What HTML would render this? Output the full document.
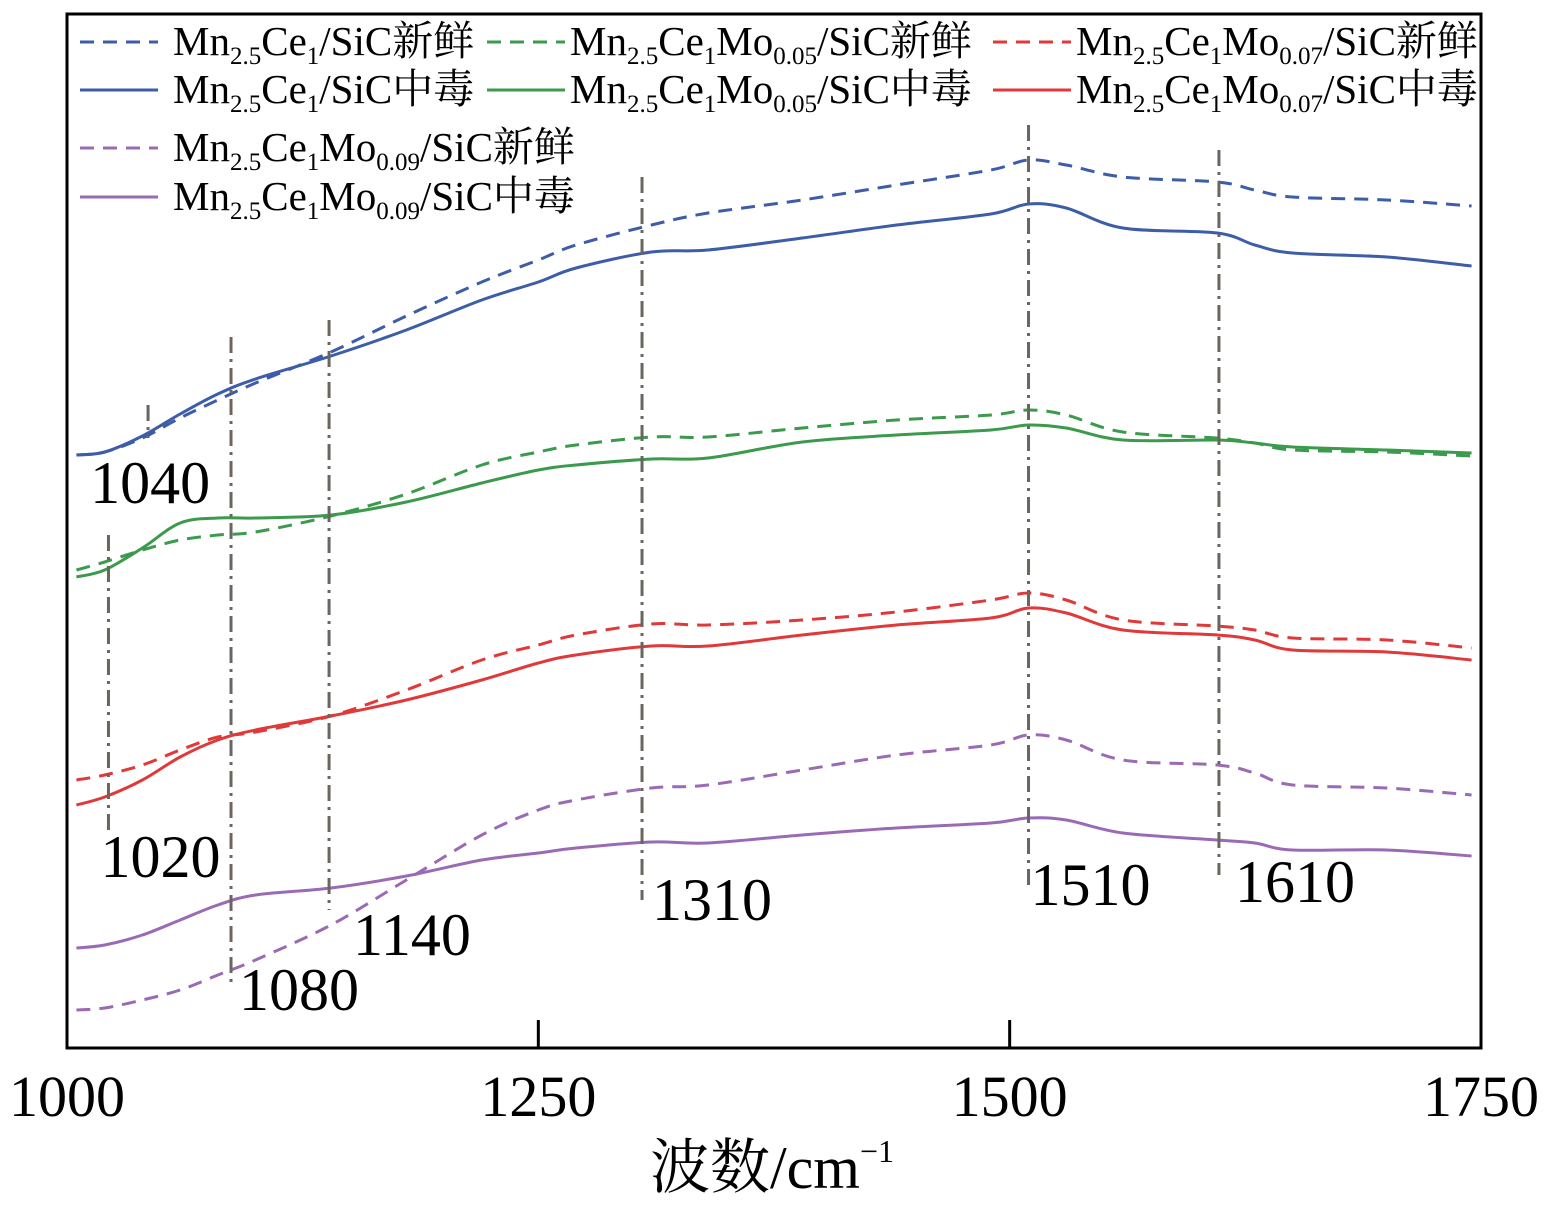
<!DOCTYPE html>
<html><head><meta charset="utf-8">
<style>
html,body{margin:0;padding:0;background:#fff;}
svg{display:block;font-family:"Liberation Serif","Noto Serif CJK SC",serif;}
</style></head>
<body>
<svg id="chart" width="1558" height="1207" viewBox="0 0 1558 1207">
<rect x="67" y="14" width="1414" height="1034" fill="none" stroke="#000" stroke-width="3"/>
<g id="marks"></g>
<g id="xaxis"></g>
<text x="772" y="1188" font-size="60" text-anchor="middle">波数/cm<tspan font-size="32" dy="-26">−1</tspan></text>
<g id="legend"></g>
</svg>
<script>
const wavenumbers=[1005,1020,1040,1060,1080,1100,1140,1180,1220,1250,1270,1310,1340,1390,1440,1490,1510,1530,1560,1610,1630,1650,1700,1745];
const blueFresh=[593,596,610,630,648,665,696,732,766,788,803,823,835,848,863,878,888,883,871,866,858,851,848,842];
const bluePoison=[593,596,612,634,654,669,692,718,748,766,780,796,798,810,823,834,844,840,820,815,803,795,791,782];
const greenFresh=[478,486,498,508,513,516,532,554,583,596,603,611,611,620,628,633,638,633,616,610,605,598,596,592];
const greenPoison=[471,478,500,525,530,530,533,546,565,578,583,589,590,606,613,618,623,620,608,608,605,601,598,595];
const redFresh=[268,273,283,298,311,316,332,358,388,403,413,424,423,428,436,448,455,448,428,422,418,410,408,400];
const redPoison=[243,251,268,291,308,318,332,348,368,385,393,402,402,413,423,430,440,435,418,413,408,398,396,388];
const purpleFresh=[38,40,48,58,73,88,123,168,213,238,248,260,263,278,293,303,313,308,288,283,275,263,260,253];
const purplePoison=[100,103,113,128,143,153,160,172,188,195,200,206,205,213,220,225,230,228,215,208,205,198,198,192];
const peakPositions=[1043,1022,1087,1139,1305,1510,1611];
const peakLabels=["1040","1020","1080","1140","1310","1510","1610"];
const peakTop=[643,513,711,728,871,923,898];
const peakBottom=[610,218,63,138,148,158,173];
const peakLabelOffsetX=[-58,-8,8,24,10,2,16];
const peakLabelY=[503,877,1010,955,920,905,902];
const xTicks=[1000,1250,1500,1750];
const seriesNames=["Mn2.5Ce1/SiC新鲜","Mn2.5Ce1/SiC中毒","Mn2.5Ce1Mo0.05/SiC新鲜","Mn2.5Ce1Mo0.05/SiC中毒","Mn2.5Ce1Mo0.07/SiC新鲜","Mn2.5Ce1Mo0.07/SiC中毒","Mn2.5Ce1Mo0.09/SiC新鲜","Mn2.5Ce1Mo0.09/SiC中毒"];

const NS="http://www.w3.org/2000/svg";
const X0=67,X1=1481,Y0=1048,Y1=14;
function xs(v){return X0+(v-1000)/(750)*(X1-X0);}
function ys(v){return Y0-(v/1034)*(Y0-Y1);}
function mk(tag,attrs,parent){const e=document.createElementNS(NS,tag);for(const k in attrs)e.setAttribute(k,attrs[k]);parent.appendChild(e);return e;}
function smooth(pts){let d="M"+pts[0][0]+","+pts[0][1];for(let i=0;i<pts.length-1;i++){const p0=pts[Math.max(0,i-1)],p1=pts[i],p2=pts[i+1],p3=pts[Math.min(pts.length-1,i+2)];const c1x=p1[0]+(p2[0]-p0[0])/6,c1y=p1[1]+(p2[1]-p0[1])/6,c2x=p2[0]-(p3[0]-p1[0])/6,c2y=p2[1]-(p3[1]-p1[1])/6;d+=`C${c1x},${c1y} ${c2x},${c2y} ${p2[0]},${p2[1]}`;}return d;}
const marks=document.getElementById('marks');
const series=[[blueFresh,"#3d5da8",true,"blue-fresh-line"],[bluePoison,"#3d5da8",false,"blue-poisoned-line"],[greenFresh,"#3b9a4c",true,"green-fresh-line"],[greenPoison,"#3b9a4c",false,"green-poisoned-line"],[redFresh,"#e0393a",true,"red-fresh-line"],[redPoison,"#e0393a",false,"red-poisoned-line"],[purpleFresh,"#9a6bb4",true,"purple-fresh-line"],[purplePoison,"#9a6bb4",false,"purple-poisoned-line"]];
series.forEach(s=>{
  const pts=wavenumbers.map((w,i)=>[xs(w),ys(s[0][i])]);
  const p=mk('path',{d:smooth(pts),fill:'none',stroke:s[1],'stroke-width':3},marks);
  if(s[2])p.setAttribute('stroke-dasharray','14,9');
  
  
});
peakPositions.forEach((w,i)=>{
  const l=mk('line',{x1:xs(w),x2:xs(w),y1:ys(peakTop[i]),y2:ys(peakBottom[i]),stroke:'#6b6560','stroke-width':3,'stroke-dasharray':'16,6,3,6'},marks);
  
  
  const t=mk('text',{x:xs(w)+peakLabelOffsetX[i],y:peakLabelY[i],'font-size':60},marks);
  t.textContent=peakLabels[i];
  
  
});
const xa=document.getElementById('xaxis');
xTicks.forEach(v=>{
  if(v>1000&&v<1750){const tk=mk('line',{x1:xs(v),x2:xs(v),y1:Y0,y2:Y0-28,stroke:'#000','stroke-width':3},xa);
  
  }
  const t=mk('text',{x:xs(v),y:1116,'font-size':58,'text-anchor':'middle'},xa);
  t.textContent=v;
  
  
});
const lg=document.getElementById('legend');
const legPos=[[80,42],[80,90],[487,42],[487,90],[993,42],[993,90],[80,148],[80,197]];
series.forEach((s,i)=>{
  const [lx,ly]=legPos[i];
  const g=mk('g',{},lg);
  
  
  const ln=mk('line',{x1:lx,x2:lx+78,y1:ly,y2:ly,stroke:s[1],'stroke-width':3},g);
  if(s[2])ln.setAttribute('stroke-dasharray','14,9');
  const t=mk('text',{x:lx+(i>=2&&i<=5?83:93),y:ly+13,'font-size':41},g);
  const m=seriesNames[i].match(/^Mn(2\.5)Ce(1)(?:Mo(0\.0\d))?(\/SiC.*)$/);
  t.innerHTML='Mn<tspan font-size="25" dy="9">'+m[1]+'</tspan><tspan dy="-9">Ce</tspan><tspan font-size="25" dy="9">'+m[2]+'</tspan>'+(m[3]?'<tspan dy="-9">Mo</tspan><tspan font-size="25" dy="9">'+m[3]+'</tspan>':'')+'<tspan dy="-9">'+m[4]+'</tspan>';
});
</script>
</body></html>
